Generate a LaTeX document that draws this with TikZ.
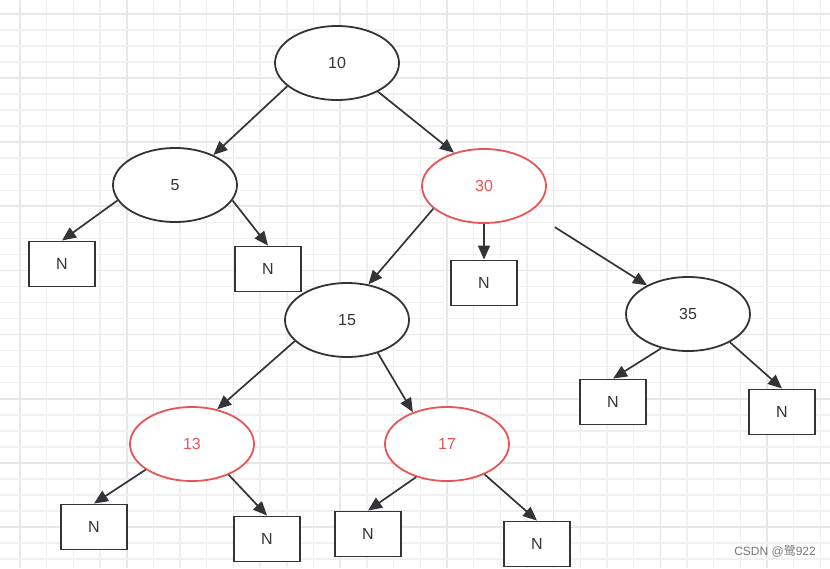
\documentclass[tikz,border=0pt]{standalone}
\usepackage{fontspec}
\setmainfont{Liberation Sans}
\newfontfamily\cjk{Noto Sans CJK SC}
\usetikzlibrary{shapes.geometric,arrows.meta}
\definecolor{ink}{RGB}{50,52,56}
\definecolor{rb}{RGB}{234,84,85}
\definecolor{gminor}{RGB}{240,240,240}
\definecolor{gmajor}{RGB}{231,231,231}
\definecolor{wm}{RGB}{120,120,120}
\tikzset{
  tnode/.style={ellipse, draw=ink, line width=1.8pt, fill=white, minimum width=124pt, minimum height=74pt, inner sep=0pt, font=\fontsize{16}{18}\selectfont, text=ink},
  rnode/.style={tnode, draw=rb, text=rb},
  nilbox/.style={rectangle, draw=ink, line width=1.9pt, fill=white, minimum width=66pt, minimum height=45pt, inner sep=0pt, font=\fontsize{16}{18}\selectfont, text=ink},
  edge/.style={draw=ink, line width=1.7pt, -{Triangle[length=14pt,width=12pt]}},
}
\begin{document}
\begin{tikzpicture}[x=1pt,y=-1pt]
\useasboundingbox (0,0) rectangle (830,568);
\fill[white] (0,0) rectangle (830,568);
% grid
\foreach \k in {0,...,30} {
  \pgfmathsetmacro{\xx}{20+26.68*\k}
  \pgfmathtruncatemacro{\m}{mod(\k,4)}
  \ifnum\m=0
    \draw[gmajor, line width=1.6pt] (\xx,0) -- (\xx,568);
  \else
    \draw[gminor, line width=1.4pt] (\xx,0) -- (\xx,568);
  \fi
}
\foreach \k in {0,...,34} {
  \pgfmathsetmacro{\yy}{13.8+16.04*\k}
  \pgfmathtruncatemacro{\m}{mod(\k,4)}
  \ifnum\m=0
    \draw[gmajor, line width=1.6pt] (0,\yy) -- (830,\yy);
  \else
    \draw[gminor, line width=1.4pt] (0,\yy) -- (830,\yy);
  \fi
}
% tree nodes
\node[tnode] (n10) at (337,63) {10};
\node[tnode] (n5) at (175,185) {5};
\node[rnode] (n30) at (484,186) {30};
\node[tnode] (n15) at (347,320) {15};
\node[tnode] (n35) at (688,314) {35};
\node[rnode] (n13) at (192,444) {13};
\node[rnode] (n17) at (447,444) {17};
% nil leaves
\node[nilbox] (b5l) at (62,264) {N};
\node[nilbox] (b5r) at (268,269) {N};
\node[nilbox] (b30) at (484,283) {N};
\node[nilbox] (b35l) at (613,402) {N};
\node[nilbox] (b35r) at (782,412) {N};
\node[nilbox] (b13l) at (94,527) {N};
\node[nilbox] (b13r) at (267,539) {N};
\node[nilbox] (b17l) at (368,534) {N};
\node[nilbox] (b17r) at (537,544) {N};
% edges
\draw[edge] (n10.205) -- (n5.38);
\draw[edge] (n10.325) -- (n30.132);
\draw[edge] (n5.195) -- (b5l.north);
\draw[edge] (n5.345) -- (b5r.north);
\draw[edge] (n30.204) -- (n15.59);
\draw[edge] (n30.south) -- (b30.north);
\draw[edge, shorten <=29pt] (n30.331) -- (n35.145);
\draw[edge] (n15.202) -- (n13.54);
\draw[edge] (n15.313) -- (n17.137);
\draw[edge] (n35.232) -- (b35l.north);
\draw[edge] (n35.326) -- (b35r.north);
\draw[edge] (n13.209) -- (b13l.north);
\draw[edge] (n13.320) -- (b13r.north);
\draw[edge] (n17.227) -- (b17l.north);
\draw[edge] (n17.321) -- (b17r.north);
% watermark
\node[anchor=east, text=wm, font=\fontsize{12}{14}\selectfont, inner sep=0pt] (wmk) at (816,551) {CSDN @{\cjk 鹭}922};
\end{tikzpicture}
\end{document}
